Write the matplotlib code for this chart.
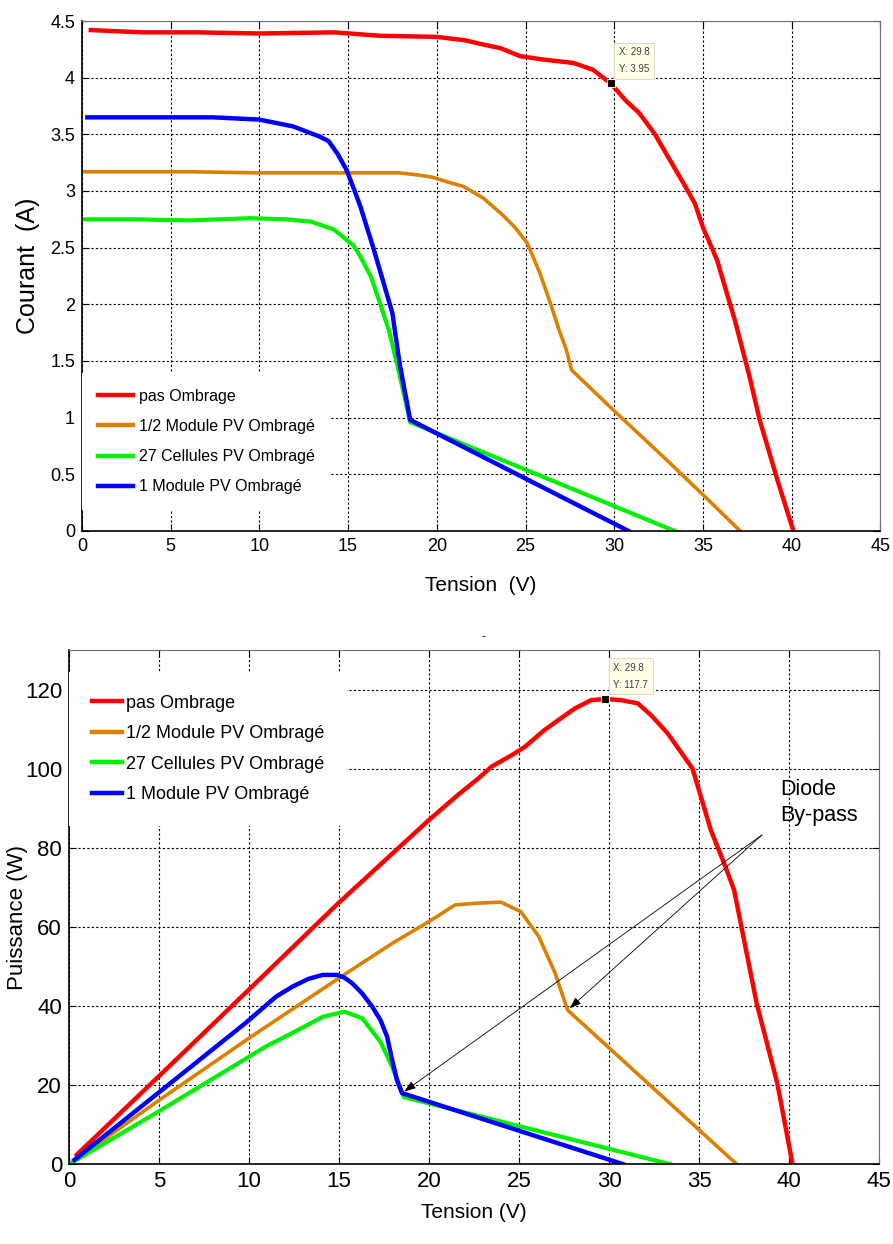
import matplotlib
matplotlib.use("Agg")
import matplotlib.pyplot as plt
from matplotlib.ticker import MultipleLocator, FuncFormatter
from matplotlib.lines import Line2D

# ---------------- I-V characteristics ----------------
v_pas = [0.5, 3.4, 6.5, 10.0, 14.2, 16.8, 20.0, 21.6, 22.4, 23.6, 24.7, 26.0, 27.7, 28.8,
         29.8, 30.7, 31.4, 32.3, 33.15, 33.9, 34.55, 35.0, 35.8, 36.8, 37.6, 38.2, 39.2, 40.1]
i_pas = [4.42, 4.40, 4.40, 4.39, 4.40, 4.37, 4.36, 4.33, 4.30, 4.26, 4.19, 4.16, 4.13, 4.07,
         3.95, 3.79, 3.69, 3.50, 3.27, 3.07, 2.89, 2.68, 2.39, 1.86, 1.38, 0.98, 0.45, 0.0]

v_demi = [0.0, 3.0, 6.0, 10.0, 13.0, 16.0, 17.9, 19.0, 19.8, 20.6, 21.5, 22.6, 23.7, 24.4,
          25.1, 25.8, 26.4, 26.9, 27.3, 27.6, 30.0, 33.0, 35.0, 37.1]
i_demi = [3.17, 3.17, 3.17, 3.16, 3.16, 3.16, 3.16, 3.14, 3.12, 3.08, 3.04, 2.94, 2.79, 2.68,
          2.54, 2.28, 2.01, 1.77, 1.60, 1.42, 1.06, 0.62, 0.32, 0.0]

v_cell = [0.0, 3.0, 6.0, 9.5, 11.5, 12.9, 14.2, 15.3, 15.7, 16.3, 16.8, 17.3, 17.9, 18.5, 33.4]
i_cell = [2.75, 2.75, 2.74, 2.76, 2.75, 2.73, 2.66, 2.52, 2.42, 2.24, 2.01, 1.77, 1.38, 0.96, 0.0]

v_mod = [0.3, 3.0, 7.4, 10.0, 11.9, 13.4, 13.9, 14.4, 14.9, 15.3, 15.7, 16.4, 17.0, 17.5,
         17.9, 18.5, 30.8]
i_mod = [3.65, 3.65, 3.65, 3.63, 3.57, 3.48, 3.44, 3.33, 3.19, 3.03, 2.86, 2.51, 2.19, 1.92,
         1.48, 0.98, 0.0]

# ---------------- P-V characteristics ----------------
vp_pas = [0.43, 5.0, 10.0, 15.0, 20.0, 21.6, 22.74, 23.48, 24.6, 25.33, 26.4, 27.2, 28.1, 29.0,
          29.8, 30.68, 31.6, 32.34, 33.26, 34.18, 34.64, 34.83, 35.66, 36.4, 36.95, 38.2, 39.35, 40.2]
p_pas = [2.4, 22.3, 44.2, 66.2, 87.1, 93.4, 97.6, 100.6, 103.5, 105.6, 109.8, 112.4, 115.3, 117.4,
         117.7, 117.4, 116.6, 113.6, 109.0, 103.1, 100.1, 97.2, 84.5, 76.1, 69.4, 40.8, 20.5, 0.0]

vp_demi = [0.2, 5.0, 10.0, 15.0, 18.0, 20.0, 21.45, 22.5, 24.0, 25.1, 26.1, 27.0, 27.7, 37.1]
p_demi = [0.6, 16.2, 31.9, 47.1, 56.0, 61.4, 65.6, 66.0, 66.3, 63.9, 57.6, 48.4, 39.0, 0.0]

vp_cell = [0.0, 5.0, 10.0, 10.9, 12.4, 14.1, 15.3, 16.3, 17.3, 17.95, 18.6, 33.4]
p_cell = [0.0, 13.4, 27.2, 29.7, 33.2, 37.3, 38.6, 36.9, 31.0, 24.7, 17.0, 0.0]

vp_mod = [0.3, 5.0, 8.4, 9.8, 11.5, 12.4, 13.3, 14.1, 14.9, 15.3, 15.73, 16.29, 16.84, 17.3,
          17.67, 17.95, 18.22, 18.5, 30.8]
p_mod = [1.1, 18.2, 30.6, 35.7, 42.4, 44.9, 46.9, 47.9, 47.9, 47.2, 45.8, 43.2, 39.9, 36.5,
         32.3, 26.4, 21.3, 18.0, 0.0]

labels = ["pas Ombrage", "1/2 Module PV Ombragé", "27 Cellules PV Ombragé", "1 Module PV Ombragé"]
colors = ["#FF0000", "#DD8000", "#00F000", "#0000FF"]

# data cursor readings
tip_v, tip_i, tip_p = 29.8, 3.95, 117.7

plt.rcParams['font.family'] = ['Liberation Sans', 'DejaVu Sans']

fig = plt.figure(figsize=(8.93, 12.44), dpi=100)
ax1 = fig.add_axes([0.0918, 0.5732, 0.8940, 0.4099])
ax2 = fig.add_axes([0.0773, 0.0641, 0.9070, 0.4131])

fmt = FuncFormatter(lambda v, _: f"{v:g}")


def style_axes(ax, ytop, ystep, fs):
    ax.set_xlim(0, 45)
    ax.set_ylim(0, ytop)
    ax.xaxis.set_major_locator(MultipleLocator(5))
    ax.yaxis.set_major_locator(MultipleLocator(ystep))
    ax.xaxis.set_major_formatter(fmt)
    ax.yaxis.set_major_formatter(fmt)
    ax.set_axisbelow(True)
    ax.grid(True, color='black', linestyle=(0, (2, 2)), linewidth=0.8)
    ax.tick_params(direction='in', top=True, right=True, length=5, width=0.8,
                   labelsize=fs, pad=5)
    for s in ['top', 'right']:
        ax.spines[s].set_color('#707070')
    for s in ['left', 'bottom']:
        ax.spines[s].set_linewidth(1.2)


def data_tip(ax, x, y):
    ax.plot([x], [y], 's', color='black', ms=5.5, mec='#f4f4d0', mew=0.8, zorder=5)
    ax.annotate(f"X: {x:g}\nY: {y:g}", xy=(x, y), xytext=(8, 9),
                textcoords='offset pixels', ha='left', va='bottom', fontsize=7,
                color='#404040', linespacing=1.9,
                bbox=dict(boxstyle='square,pad=0.45', fc='#FFFFE8', ec='#DCDCC8', lw=0.8))


widths = [3.2, 2.6, 3.0, 3.2]
handles = [Line2D([], [], color=c, lw=3.2) for c in colors]

# ---- top: current vs voltage ----
style_axes(ax1, 4.5, 0.5, 13)
iv = [(v_pas, i_pas), (v_demi, i_demi), (v_cell, i_cell), (v_mod, i_mod)]
for (v, i), c, lw, lab in zip(iv, colors, widths, labels):
    ax1.plot(v, i, color=c, lw=lw, label=lab, solid_joinstyle='round')
ax1.set_xlabel("Tension  (V)", fontsize=15, labelpad=15)
ax1.set_ylabel("Courant  (A)", fontsize=18)
ax1.yaxis.set_label_coords(-0.052, 0.52)
data_tip(ax1, tip_v, tip_i)

ax1.legend(handles, labels, loc='upper left', bbox_to_anchor=(0.0, 0.31),
           fontsize=11.5, frameon=True, fancybox=False, framealpha=1,
           facecolor='white', edgecolor='none', handlelength=2.2,
           handletextpad=0.4, labelspacing=0.95, borderpad=1.0, borderaxespad=0)

# ---- bottom: power vs voltage ----
style_axes(ax2, 130, 20, 16)
ax2.set_yticks(range(0, 121, 20))
pv = [(vp_pas, p_pas), (vp_demi, p_demi), (vp_cell, p_cell), (vp_mod, p_mod)]
for (v, p), c, lw, lab in zip(pv, colors, widths, labels):
    ax2.plot(v, p, color=c, lw=lw, label=lab, solid_joinstyle='round')
ax2.set_xlabel("Tension (V)", fontsize=15, labelpad=8)
ax2.set_ylabel("Puissance (W)", fontsize=16)
ax2.yaxis.set_label_coords(-0.051, 0.48)
data_tip(ax2, tip_v, tip_p)

ax2.legend(handles, labels, loc='upper left', bbox_to_anchor=(0.0, 0.958),
           fontsize=13, frameon=True, fancybox=False, framealpha=1,
           facecolor='white', edgecolor='none', handlelength=1.67,
           handletextpad=0.22, labelspacing=0.75, borderpad=1.25, borderaxespad=0)

# by-pass diode knees
knee_demi = (vp_demi[12], p_demi[12])
knee_mod = (vp_mod[17], p_mod[17])
tail = (38.5, 83.3)
for knee in (knee_demi, knee_mod):
    ax2.annotate("", xy=knee, xytext=tail,
                 arrowprops=dict(arrowstyle='-|>,head_length=0.5,head_width=0.18',
                                 color='black', lw=0.6, shrinkA=0, shrinkB=2,
                                 mutation_scale=14))
ax2.text(39.5, 97.5, "Diode\nBy-pass", ha='left', va='top', fontsize=15.5,
         linespacing=1.35, color='black')

fig.text(483 / 893, 1 - 637 / 1244, "-", ha='center', va='center', fontsize=9)

fig.savefig("out.png", dpi=100, facecolor='white')
